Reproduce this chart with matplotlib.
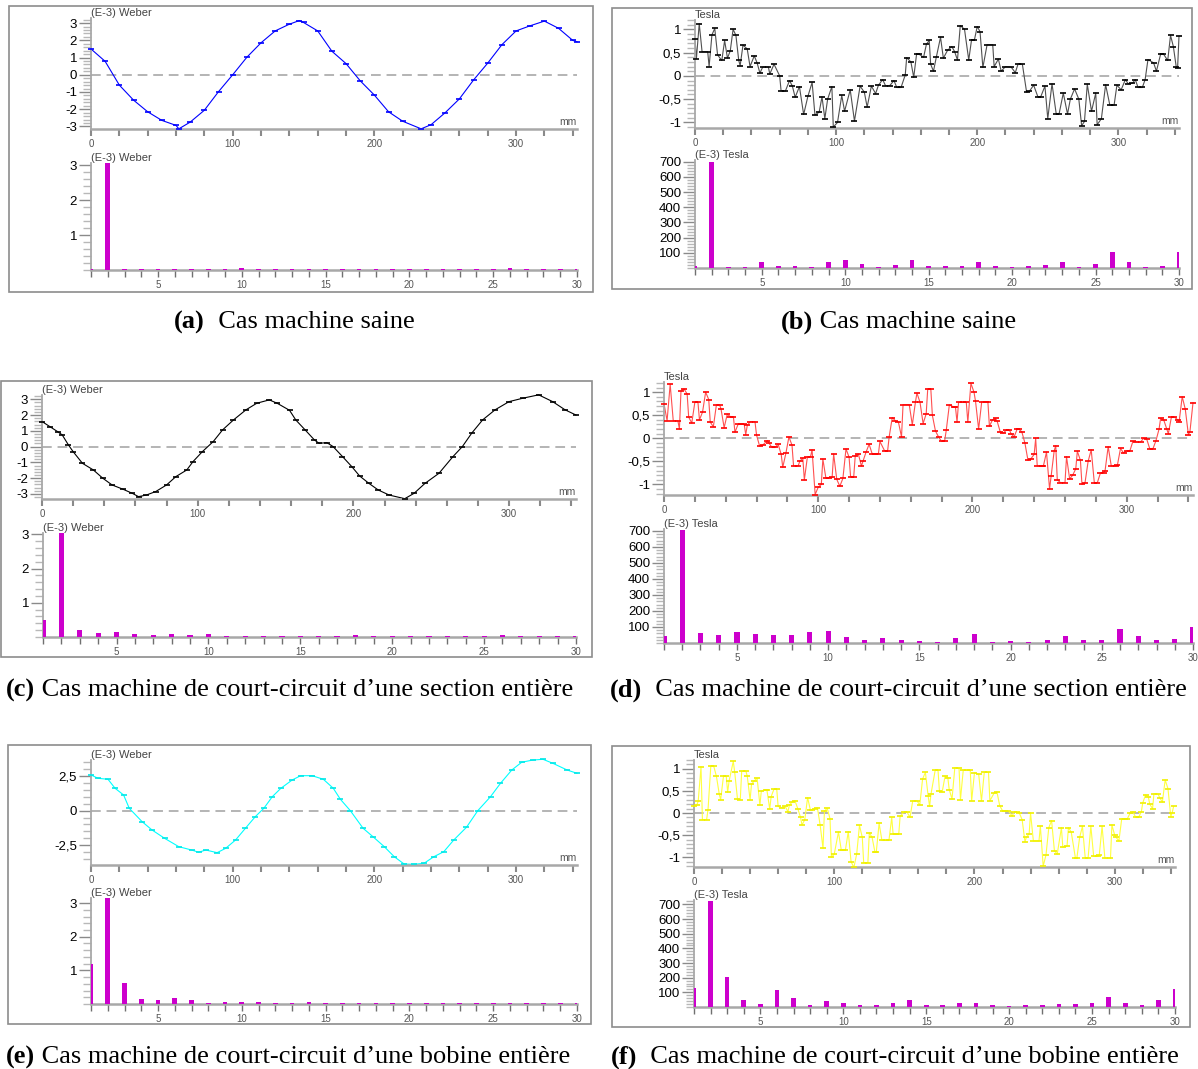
import numpy as np
import matplotlib
matplotlib.use('Agg')
import matplotlib.pyplot as plt
from matplotlib.patches import Rectangle
from matplotlib.ticker import MultipleLocator

W, H = 1198, 1069

# ---------------------------------------------------------------------------
# waveforms along the air gap (mm)

# (a) healthy machine, flux, (E-3) Weber
a_mm = [0, 10, 20, 30, 40, 50, 60, 62, 70, 80, 90, 100, 110, 120, 130, 140, 147, 150, 160,
        170, 180, 190, 200, 210, 220, 233, 240, 250, 260, 270, 280, 290, 300, 310, 320, 330, 340, 343]
a_wb = [1.5, 0.78, -0.6, -1.47, -2.15, -2.65, -2.94, -3.14, -2.75, -2.06, -0.98, 0.0, 1.02, 1.86, 2.55,
        2.94, 3.15, 3.04, 2.55, 1.37, 0.65, -0.35, -1.18, -2.15, -2.7, -3.14, -2.9, -2.2, -1.4, -0.3,
        0.68, 1.75, 2.55, 2.85, 3.12, 2.7, 2.0, 1.92]

# (b) healthy machine, induction, Tesla
b_mm = [0, 1, 3, 5, 9, 10, 12, 14, 16, 19,
        21, 23, 25, 27, 29, 31, 32, 34, 37, 39,
        42, 44, 46, 48, 52, 53, 56, 60, 61, 64,
        67, 69, 71, 74, 77, 80, 83, 85, 88, 90,
        92, 94, 97, 98, 101, 104, 106, 110, 113, 117,
        120, 122, 125, 128, 130, 133, 135, 138, 141, 143,
        146, 149, 150, 153, 155, 157, 159, 162, 164, 166,
        167, 169, 171, 174, 176, 179, 182, 184, 186, 188,
        191, 194, 196, 198, 200, 202, 204, 207, 211, 212,
        215, 217, 220, 224, 227, 229, 232, 235, 237, 240,
        243, 245, 248, 250, 253, 256, 258, 261, 264, 266,
        269, 272, 274, 276, 278, 281, 284, 285, 288, 291,
        294, 297, 299, 302, 305, 307, 310, 312, 314, 317,
        319, 321, 325, 327, 330, 332, 335, 337, 339, 341,
        342, 343]
b_tesla = [0.8, 0.37, 1.12, 0.52, 0.52, 0.2, 0.88, 1.02, 0.45, 0.33,
           0.76, 0.38, 0.54, 1.0, 0.87, 0.33, 0.22, 0.66, 0.58, 0.2,
           0.43, 0.28, 0.06, 0.19, 0.19, 0.04, 0.25, 0.0, -0.32, -0.33,
           -0.1, -0.22, -0.46, -0.23, -0.83, -0.44, -0.14, -0.84, -0.78, -0.45,
           -0.92, -0.5, -0.23, -1.1, -1.0, -0.42, -0.76, -0.3, -0.97, -0.22,
           -0.35, -0.67, -0.22, -0.38, -0.2, -0.08, -0.21, -0.21, -0.1, -0.25,
           -0.25, 0.02, 0.39, 0.3, -0.03, 0.46, 0.46, 0.4, 0.68, 0.76,
           0.25, 0.1, 0.4, 0.83, 0.38, 0.55, 0.63, 0.52, 0.34, 1.08,
           1.0, 0.34, 0.78, 0.77, 1.06, 0.95, 0.18, 0.67, 0.67, 0.2,
           0.36, 0.1, 0.2, 0.19, 0.07, 0.26, 0.25, -0.35, -0.33, -0.2,
           -0.45, -0.45, -0.22, -0.92, -0.17, -0.82, -0.82, -0.37, -0.82, -0.5,
           -0.28, -0.5, -1.07, -0.98, -0.18, -0.76, -0.37, -1.05, -0.92, -0.19,
           -0.63, -0.63, -0.2, -0.3, -0.08, -0.17, -0.16, -0.08, -0.25, -0.25,
           -0.08, 0.35, 0.28, 0.1, 0.47, 0.47, 0.33, 0.87, 0.63, 0.2,
           0.17, 0.85]

# (c) short-circuited section, flux, (E-3) Weber
c_mm = [0, 5, 10, 13, 17, 20, 26, 33, 39, 45, 52, 58, 62, 67, 73, 80, 86, 93, 97, 103,
        110, 116, 123, 131, 138, 146, 151, 159, 163, 169, 175, 178, 183, 187, 193, 199, 204, 210,
        216, 223, 233, 239, 246, 255, 264, 270, 276, 283, 291, 300, 309, 319, 328, 336, 343]
c_wb = [1.59, 1.27, 0.95, 0.74, 0.1, -0.32, -1.06, -1.48, -2.0, -2.43, -2.7, -2.96, -3.17, -3.07,
        -2.85, -2.43, -1.9, -1.48, -0.95, -0.32, 0.32, 1.06, 1.69, 2.33, 2.75, 2.96, 2.75, 2.3,
        1.69, 1.06, 0.42, 0.21, 0.25, 0.0, -0.63, -1.27, -1.86, -2.33, -2.75, -3.07, -3.3, -2.96,
        -2.33, -1.69, -0.63, 0.0, 0.85, 1.69, 2.33, 2.85, 3.07, 3.28, 2.85, 2.33, 2.0]

# (d) short-circuited section, induction, Tesla
d_mm = [0, 2, 4, 6, 9, 10, 11, 13, 15, 16,
        18, 20, 22, 23, 25, 27, 29, 30, 32, 34,
        36, 37, 39, 41, 43, 45, 46, 48, 50, 52,
        53, 54, 56, 59, 60, 62, 64, 67, 68, 70,
        72, 74, 76, 77, 79, 81, 83, 84, 87, 88,
        90, 91, 93, 95, 96, 98, 100, 102, 103, 105,
        107, 109, 110, 112, 114, 116, 118, 120, 121, 123,
        124, 126, 128, 129, 131, 133, 135, 137, 139, 140,
        143, 145, 146, 148, 150, 152, 154, 155, 159, 161,
        163, 164, 166, 168, 170, 171, 173, 174, 176, 178,
        180, 182, 183, 185, 188, 189, 190, 191, 194, 196,
        197, 199, 201, 202, 204, 206, 209, 210, 211, 213,
        215, 216, 218, 220, 222, 224, 225, 227, 229, 230,
        232, 234, 236, 238, 240, 241, 242, 245, 246, 248,
        250, 251, 253, 254, 255, 257, 260, 261, 263, 265,
        267, 268, 270, 271, 273, 275, 277, 279, 281, 283,
        285, 286, 288, 290, 293, 294, 296, 298, 300, 302,
        304, 306, 309, 311, 313, 315, 317, 319, 321, 322,
        324, 326, 327, 329, 331, 333, 334, 336, 338, 340,
        341, 343]
d_tesla = [0.75, 0.38, 1.17, 0.38, 0.38, 0.2, 1.02, 1.07, 0.96, 0.46,
           0.33, 0.78, 0.78, 0.4, 0.57, 1.0, 0.84, 0.35, 0.25, 0.73,
           0.73, 0.63, 0.23, 0.52, 0.47, 0.47, 0.13, 0.3, 0.3, 0.3,
           0.08, 0.28, 0.36, 0.36, 0.07, -0.17, -0.15, -0.05, -0.1, -0.2,
           -0.2, -0.13, -0.35, -0.63, -0.33, 0.03, -0.15, -0.6, -0.6, -0.5,
           -0.43, -0.9, -0.4, -0.4, -0.25, -1.22, -1.06, -1.0, -0.45, -0.87,
           -0.86, -0.85, -0.34, -0.89, -1.04, -0.87, -0.23, -0.41, -0.84, -0.84,
           -0.38, -0.34, -0.6, -0.5, -0.3, -0.13, -0.34, -0.34, -0.34, -0.07,
           -0.27, -0.27, 0.03, 0.45, 0.38, 0.35, 0.03, 0.73, 0.73, 0.29,
           0.78, 0.98, 0.78, 0.32, 0.53, 1.07, 1.07, 0.5, 0.16, 0.03,
           -0.07, -0.05, 0.17, 0.72, 0.68, 0.67, 0.35, 0.78, 0.78, 0.78,
           0.35, 1.19, 1.0, 0.8, 0.2, 0.79, 0.79, 0.79, 0.26, 0.4,
           0.43, 0.37, 0.14, 0.11, 0.18, 0.18, 0.1, 0.03, 0.2, 0.2,
           0.14, -0.1, -0.48, -0.44, -0.35, 0.0, -0.6, -0.6, -0.6, -0.3,
           -1.1, -0.82, -0.27, -0.16, -0.9, -0.96, -0.96, -0.4, -0.88, -0.8,
           -0.66, -0.28, -0.48, -1.0, -0.96, -0.5, -0.25, -0.96, -0.96, -0.75,
           -0.75, -0.7, -0.18, -0.6, -0.6, -0.58, -0.22, -0.32, -0.27, -0.28,
           -0.07, -0.08, -0.08, 0.0, -0.02, -0.23, -0.23, -0.05, 0.2, 0.43,
           0.4, 0.2, 0.1, 0.46, 0.46, 0.4, 0.36, 0.9, 0.63, 0.08,
           0.14, 0.77]

# (e) short-circuited coil, flux, (E-3) Weber
e_mm = [0, 5, 12, 17, 23, 27, 36, 43, 52, 62, 71, 76, 81, 89, 95, 102, 109, 116, 122, 128,
        134, 142, 148, 156, 164, 171, 176, 183, 192, 199, 207, 214, 221, 228, 235, 242, 249,
        256, 265, 273, 282, 289, 297, 304, 312, 319, 326, 336, 343]
e_wb = [2.57, 2.33, 2.26, 1.61, 1.13, 0.17, -0.79, -1.39, -2.0, -2.6, -2.84, -3.0, -2.84, -3.03,
        -2.72, -2.12, -1.27, -0.43, 0.17, 1.01, 1.61, 2.21, 2.52, 2.52, 2.26, 1.61, 0.82, 0.0,
        -1.27, -1.88, -2.6, -3.32, -3.85, -3.87, -3.8, -3.32, -2.96, -2.12, -1.2, 0.0, 1.01,
        1.97, 2.93, 3.49, 3.65, 3.7, 3.41, 2.93, 2.69]

# (f) short-circuited coil, induction, Tesla
f_mm = [0, 2, 3, 5, 6, 9, 10, 12, 14, 16,
        18, 19, 21, 23, 24, 25, 28, 29, 31, 33,
        34, 37, 38, 40, 41, 43, 45, 47, 48, 51,
        52, 54, 55, 57, 59, 60, 63, 65, 67, 68,
        70, 72, 74, 76, 77, 79, 81, 83, 84, 86,
        88, 90, 92, 93, 95, 97, 98, 100, 103, 105,
        106, 108, 110, 112, 114, 116, 118, 120, 121, 124,
        125, 127, 129, 130, 132, 134, 137, 139, 141, 142,
        144, 146, 147, 150, 152, 154, 156, 159, 161, 163,
        165, 167, 168, 169, 172, 174, 175, 177, 179, 181,
        182, 184, 186, 189, 190, 192, 195, 197, 198, 200,
        203, 205, 207, 210, 211, 214, 216, 218, 220, 222,
        224, 227, 228, 230, 232, 234, 236, 237, 239, 240,
        242, 246, 247, 249, 251, 253, 255, 257, 259, 262,
        263, 266, 267, 269, 272, 273, 275, 277, 279, 281,
        283, 285, 288, 289, 291, 293, 297, 298, 300, 301,
        303, 305, 307, 309, 311, 313, 315, 317, 319, 320,
        322, 324, 325, 327, 328, 331, 332, 334, 336, 338,
        340, 341, 342]
f_tesla = [0.15, 0.18, 0.27, 1.05, -0.15, -0.15, 0.08, 1.07, 1.07, 0.83,
           0.43, 0.3, 0.83, 0.83, 0.47, 0.72, 1.17, 0.93, 0.32, 0.3,
           0.95, 0.95, 0.83, 0.3, 0.65, 0.73, 0.79, 0.18, 0.5, 0.52,
           0.52, 0.09, 0.37, 0.54, 0.54, 0.15, 0.12, 0.15, 0.03, 0.18,
           0.25, 0.28, 0.1, -0.1, -0.27, -0.15, 0.35, 0.07, 0.07, 0.1,
           0.12, -0.28, -0.8, 0.04, 0.11, -0.13, -1.0, -0.93, -0.43, -0.83,
           -0.83, -0.83, -0.42, -1.1, -1.23, -0.93, -0.28, -0.55, -1.12, -1.12,
           -0.45, -0.55, -0.88, -0.88, -0.23, -0.62, -0.62, -0.62, -0.1, -0.48,
           -0.48, -0.48, -0.07, 0.03, 0.02, -0.1, 0.28, 0.28, 0.18, 0.77,
           0.92, 0.38, 0.15, 0.43, 0.97, 0.97, 0.5, 0.48, 0.83, 0.8,
           0.53, 0.32, 1.03, 1.01, 0.3, 0.97, 0.97, 0.97, 0.28, 0.91,
           0.88, 0.28, 0.92, 0.92, 0.28, 0.45, 0.48, 0.17, 0.05, 0.05,
           0.05, -0.07, 0.02, 0.02, 0.0, -0.15, -0.65, -0.55, -0.47, 0.0,
           -0.63, -0.63, -0.3, -1.2, -0.95, -0.33, -0.17, -0.85, -0.93, -0.33,
           -0.77, -0.75, -0.33, -0.43, -1.02, -1.02, -0.55, -0.3, -1.02, -1.02,
           -0.3, -0.98, -0.98, -0.95, -0.3, -1.02, -1.02, -0.27, -0.5, -0.55,
           -0.63, -0.13, -0.13, -0.13, 0.0, 0.03, -0.1, -0.1, 0.03, 0.23,
           0.41, 0.36, 0.2, 0.1, 0.44, 0.43, 0.35, 0.25, 0.75, 0.55,
           -0.08, 0.01, 0.15]

# ---------------------------------------------------------------------------
# harmonic spectra (rank 1..30)
harmonics = list(range(1, 31))
a_harm = [0.03, 3.05, 0.03, 0.03, 0.03, 0.03, 0.03, 0.03, 0.03, 0.06, 0.03, 0.03, 0.03, 0.04, 0.03,
          0.03, 0.03, 0.04, 0.03, 0.03, 0.03, 0.03, 0.03, 0.02, 0.03, 0.06, 0.03, 0.03, 0.03, 0.03]
b_harm = [15, 700, 9, 9, 37, 13, 15, 9, 40, 55, 24, 9, 18, 55, 15,
          13, 13, 42, 13, 9, 15, 22, 42, 7, 26, 103, 42, 9, 15, 108]
c_harm = [0.49, 3.04, 0.2, 0.13, 0.15, 0.1, 0.07, 0.09, 0.06, 0.09, 0.04, 0.04, 0.04, 0.03, 0.03,
          0.04, 0.04, 0.05, 0.03, 0.04, 0.04, 0.03, 0.03, 0.03, 0.03, 0.05, 0.03, 0.04, 0.03, 0.03]
d_harm = [46, 704, 60, 48, 67, 54, 48, 52, 67, 73, 38, 19, 33, 19, 15,
          8, 29, 54, 8, 12, 8, 19, 42, 21, 17, 88, 46, 19, 23, 102]
e_harm = [1.2, 3.18, 0.62, 0.16, 0.12, 0.19, 0.12, 0.04, 0.07, 0.05, 0.05, 0.04, 0.04, 0.05, 0.02,
          0.04, 0.03, 0.03, 0.03, 0.03, 0.03, 0.03, 0.03, 0.03, 0.03, 0.04, 0.03, 0.03, 0.03, 0.03]
f_harm = [129, 722, 203, 50, 23, 113, 61, 11, 43, 29, 14, 11, 27, 47, 14,
          11, 27, 27, 16, 5, 14, 14, 20, 23, 29, 65, 27, 16, 47, 122]

captions = [("(a)", "  Cas machine saine"),
            ("(b)", " Cas machine saine"),
            ("(c)", " Cas machine de court-circuit d\u2019une section enti\u00e8re"),
            ("(d)", "  Cas machine de court-circuit d\u2019une section enti\u00e8re"),
            ("(e)", " Cas machine de court-circuit d\u2019une bobine enti\u00e8re"),
            ("(f)", "  Cas machine de court-circuit d\u2019une bobine enti\u00e8re")]

weber_ticks = [-3, -2, -1, 0, 1, 2, 3]
weber_labels = ['-3', '-2', '-1', '0', '1', '2', '3']
weber25_ticks = [-2.5, 0, 2.5]
weber25_labels = ['-2,5', '0', '2,5']
tesla_ticks = [-1, -0.5, 0, 0.5, 1]
tesla_labels = ['-1', '-0,5', '0', '0,5', '1']
spec_wb_ticks = [1, 2, 3]
spec_t_ticks = [100, 200, 300, 400, 500, 600, 700]

# ---------------------------------------------------------------------------
AXIS_GREY = '#a8a8a8'
TICK_GREY = '#8a8a8a'
BAR = '#cc00cc'
SANS = ['Liberation Sans', 'DejaVu Sans']
SERIF = ['Liberation Serif', 'DejaVu Serif']

plt.rcParams['font.family'] = SANS

fig = plt.figure(figsize=(W / 100, H / 100), dpi=100)
fig.patch.set_facecolor('white')


def px_axes(l, t, r, b):
    return fig.add_axes([l / W, 1 - b / H, (r - l) / W, (b - t) / H])


def frame(l, t, r, b):
    fig.add_artist(Rectangle((l / W, 1 - b / H), (r - l) / W, (b - t) / H,
                             transform=fig.transFigure, fill=False, ec='#8c8c8c', lw=1.2))


def base_style(ax):
    ax.patch.set_alpha(0)
    for s in ('top', 'right'):
        ax.spines[s].set_visible(False)
    for s in ('left', 'bottom'):
        ax.spines[s].set_color(AXIS_GREY)
    ax.spines['left'].set_linewidth(1.3)
    ax.spines['bottom'].set_linewidth(1.8)
    ax.tick_params(axis='y', which='major', length=9, width=1.0, color=TICK_GREY,
                   labelsize=9.5, labelcolor='black', pad=1)
    ax.tick_params(axis='y', which='minor', length=6, width=1.0, color='#b8b8b8')


def wave_panel(box, mm, vals, ylim, yticks, ylabels, ystep, unit, lcolor, mcolor):
    ax = px_axes(*box)
    base_style(ax)
    ax.axhline(0, color='#b4b4b4', lw=1.4, ls=(0, (5, 3)), zorder=1)
    ax.plot(mm, vals, color=lcolor, lw=0.8, zorder=2, clip_on=False)
    ax.plot(mm, vals, ls='none', marker='_', ms=4, mew=1.2, color=mcolor, zorder=3, clip_on=False)
    ax.set_xlim(0, 343)
    ax.set_ylim(*ylim)
    xt = list(range(0, 341, 20))
    ax.set_xticks(xt, [str(v) if v % 100 == 0 else '' for v in xt])
    ax.set_yticks(yticks, ylabels)
    ax.yaxis.set_minor_locator(MultipleLocator(ystep))
    ax.tick_params(axis='x', length=5, width=1.5, color=TICK_GREY, labelsize=7,
                   labelcolor='#555555', pad=2)
    ax.text(0, 1.0, unit, transform=ax.transAxes, ha='left', va='bottom', fontsize=8,
            color='#444444')
    ax.text(1, 0.015, 'mm', transform=ax.transAxes, ha='right', va='bottom', fontsize=7.5,
            color='#555555')
    return ax


def harm_panel(box, vals, ylim, yticks, ystep, unit):
    ax = px_axes(*box)
    base_style(ax)
    ax.bar(harmonics, vals, width=0.28, color=BAR, zorder=3)
    ax.set_xlim(1, 30)
    ax.set_ylim(*ylim)
    ax.set_xticks(harmonics, [str(h) if h % 5 == 0 else '' for h in harmonics])
    ax.set_yticks(yticks, [str(v) for v in yticks])
    ax.yaxis.set_minor_locator(MultipleLocator(ystep))
    ax.tick_params(axis='x', length=5, width=1.0, color='#707070', labelsize=7,
                   labelcolor='#555555', pad=2)
    ax.text(0, 1.0, unit, transform=ax.transAxes, ha='left', va='bottom', fontsize=8,
            color='#444444')
    return ax


# panel frames
frame(9, 6, 593, 292)
frame(612, 8, 1192, 289)
frame(1, 381, 592, 657)
frame(8, 745, 591, 1024)
frame(612, 746, 1190, 1027)

# (a)
wave_panel((91, 18, 577, 129), a_mm, a_wb, (-3.15, 3.3), weber_ticks, weber_labels, 0.2,
           '(E-3) Weber', '#0000ff', '#0000ff')
harm_panel((91, 163, 577, 270), a_harm, (0, 3.06), spec_wb_ticks, 0.2, '(E-3) Weber')

# (b)
wave_panel((695, 20, 1179, 128), b_mm, b_tesla, (-1.12, 1.2), tesla_ticks, tesla_labels, 0.1,
           'Tesla', '#505050', '#000000')
harm_panel((695, 160, 1179, 268), b_harm, (0, 712), spec_t_ticks, 20, '(E-3) Tesla')

# (c)
wave_panel((42, 395, 576, 499), c_mm, c_wb, (-3.32, 3.27), weber_ticks, weber_labels, 0.2,
           '(E-3) Weber', '#000000', '#000000')
harm_panel((43, 533, 576, 637), c_harm, (0, 3.04), spec_wb_ticks, 0.2, '(E-3) Weber')

# (d)
wave_panel((664, 382, 1193, 495), d_mm, d_tesla, (-1.23, 1.22), tesla_ticks, tesla_labels, 0.1,
           'Tesla', '#ff5050', '#ff0000')
harm_panel((664, 529, 1193, 643), d_harm, (0, 712), spec_t_ticks, 20, '(E-3) Tesla')

# (e)
wave_panel((91, 760, 577, 865), e_mm, e_wb, (-3.92, 3.65), weber25_ticks, weber25_labels, 0.5,
           '(E-3) Weber', '#00ffff', '#00e8e8')
harm_panel((91, 898, 577, 1004), e_harm, (0, 3.15), spec_wb_ticks, 0.2, '(E-3) Weber')

# (f)
wave_panel((694, 760, 1175, 867), f_mm, f_tesla, (-1.22, 1.2), tesla_ticks, tesla_labels, 0.1,
           'Tesla', '#ffff40', '#f0f000')
harm_panel((694, 900, 1175, 1007), f_harm, (0, 730), spec_t_ticks, 20, '(E-3) Tesla')

# captions: bold letter then plain text
cap_pos = [(174, 322), (781, 322), (6, 690), (610, 690), (6, 1057), (611, 1057)]
renderer = fig.canvas.get_renderer()
for (bold, rest), (x, y) in zip(captions, cap_pos):
    t = fig.text(x / W, 1 - y / H, bold, fontsize=19, fontweight='bold', family=SERIF,
                 va='center', ha='left')
    bb = t.get_window_extent(renderer=renderer)
    fig.text(bb.x1 / W, 1 - y / H, rest, fontsize=19, family=SERIF, va='center', ha='left')

fig.savefig('out.png', dpi=100, facecolor='white')
